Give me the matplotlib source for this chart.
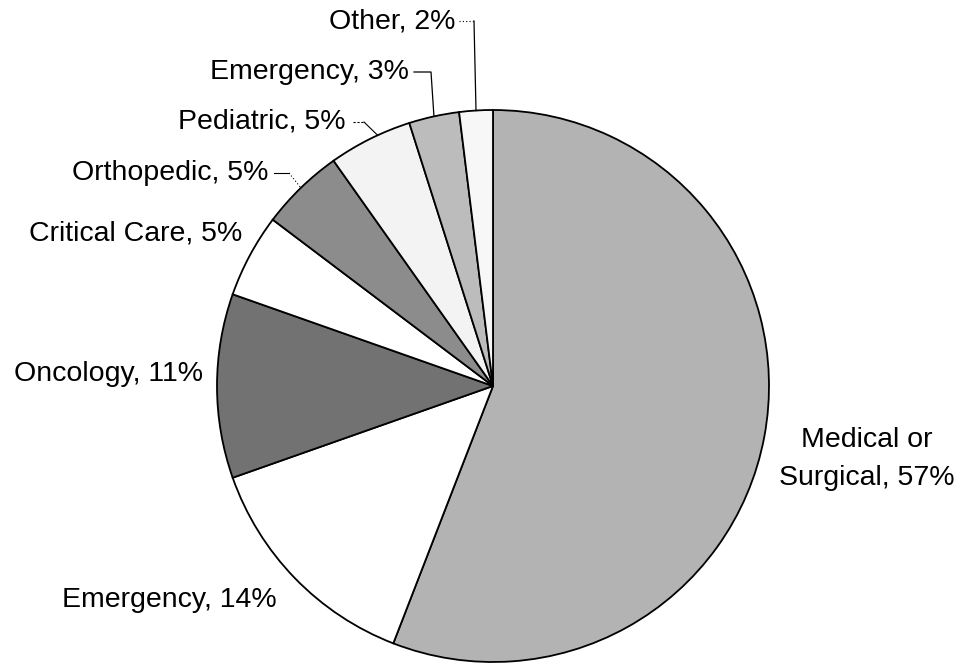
import numpy as np
import matplotlib
matplotlib.use("Agg")
import matplotlib.pyplot as plt

# ---- data ----
categories = ["Medical or\nSurgical", "Emergency", "Oncology", "Critical Care",
              "Orthopedic", "Pediatric", "Emergency", "Other"]
values = [57, 14, 11, 5, 5, 5, 3, 2]
slice_colors = ["#b3b3b3", "#ffffff", "#727272", "#ffffff",
                "#8c8c8c", "#f3f3f3", "#bcbcbc", "#f7f7f7"]

W, H = 960, 668
plt.rcParams['font.family'] = ['Liberation Sans', 'DejaVu Sans']

fig = plt.figure(figsize=(W / 100, H / 100), dpi=100)
ax = fig.add_axes([0, 0, 1, 1])

def py(y):
    return H - y

cx, cy, R = 493, py(386), 276
wedges, _ = ax.pie(values, colors=slice_colors, startangle=90, counterclock=False,
                   center=(cx, cy), radius=R,
                   wedgeprops=dict(edgecolor="black", linewidth=1.3))
ax.set_xlim(0, W)
ax.set_ylim(0, H)
ax.set_aspect('equal')
ax.axis('off')

fs = 20.5
labels = [f"{c}, {v}%" for c, v in zip(categories, values)]

def edge_point(w, frac=0.5):
    t = np.deg2rad(w.theta1 + (w.theta2 - w.theta1) * frac)
    return cx + R * np.cos(t), cy + R * np.sin(t)

# Medical or Surgical
ax.text(867, py(459), labels[0], ha='center', va='center', fontsize=fs,
        multialignment='center', linespacing=1.62)
# Emergency 14%
ax.text(277, py(600), labels[1], ha='right', va='center', fontsize=fs)
# Oncology
ax.text(203, py(374), labels[2], ha='right', va='center', fontsize=fs)
# Critical care
ax.text(242, py(233), labels[3], ha='right', va='center', fontsize=fs)
# Orthopedic
ax.text(268, py(173), labels[4], ha='right', va='center', fontsize=fs)
ex, ey = edge_point(wedges[4])
ax.plot([274, 289], [py(173), py(173)], color='black', lw=0.8)
ax.plot([289, ex], [py(173), ey], color='black', lw=0.8, ls=(0, (1, 2)))
# Pediatric
ax.text(345, py(122), labels[5], ha='right', va='center', fontsize=fs)
ex, ey = edge_point(wedges[5], 0.4)
ax.plot([353, 364], [py(122), py(122)], color='black', lw=0.8, ls=(0, (2, 1.5)))
ax.plot([364, ex], [py(122), ey], color='black', lw=0.8)
# Emergency 3%
ax.text(409, py(72), labels[6], ha='right', va='center', fontsize=fs)
ex, ey = edge_point(wedges[6])
ax.plot([414, 431, ex], [py(72), py(72), ey], color='black', lw=0.9)
# Other
ax.text(455, py(21), labels[7], ha='right', va='center', fontsize=fs)
ex, ey = edge_point(wedges[7])
ax.plot([459, 474], [py(21), py(21)], color='black', lw=0.8, ls=(0, (1, 2)))
ax.plot([474, ex], [py(21), ey], color='black', lw=0.9)

fig.savefig("out.png", dpi=100, facecolor='white')
